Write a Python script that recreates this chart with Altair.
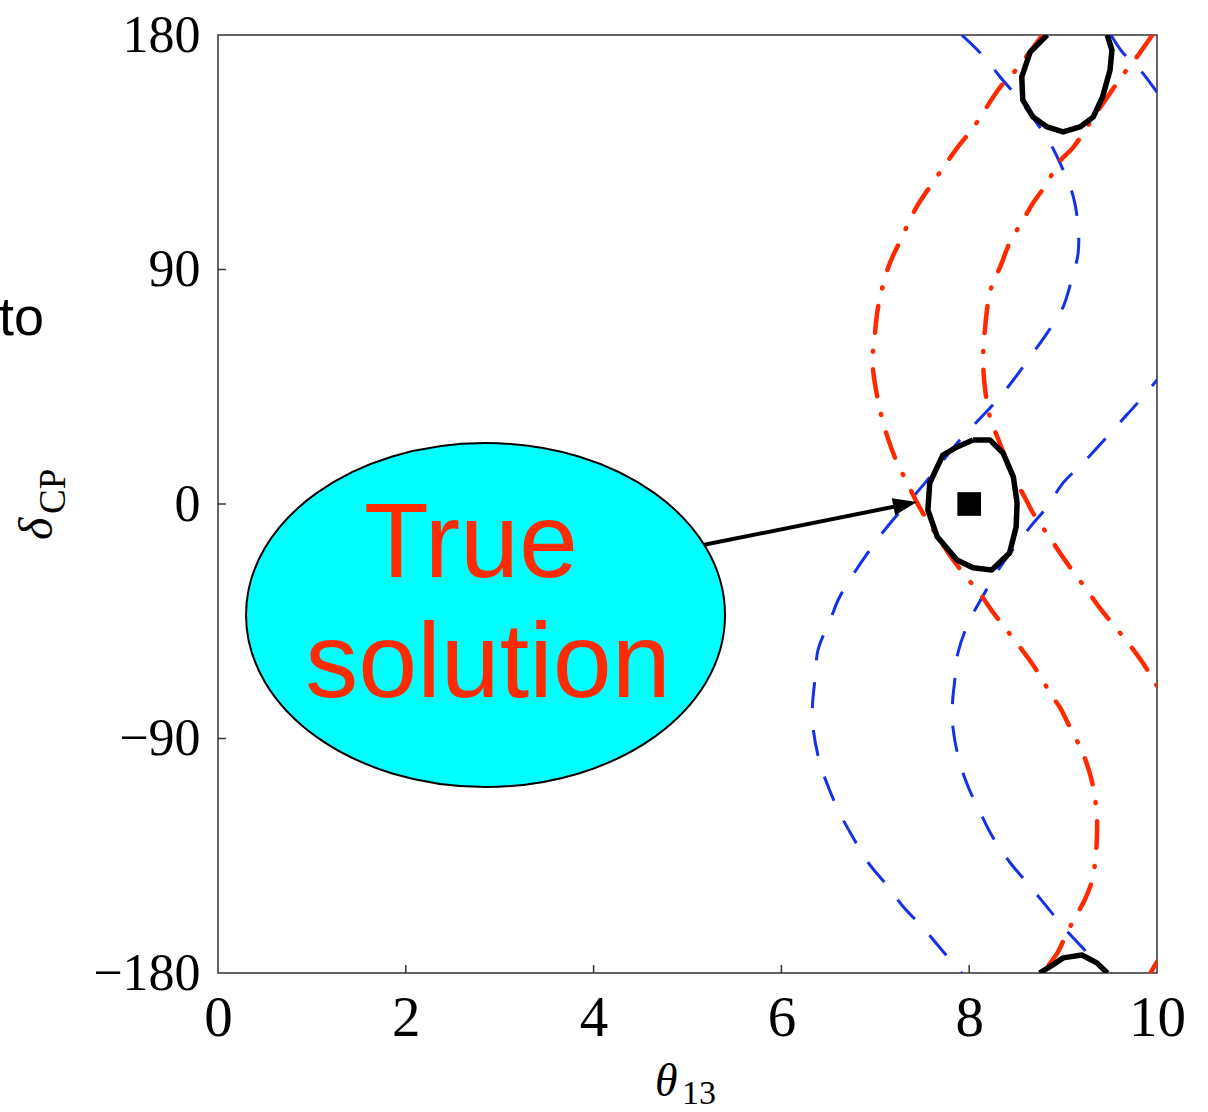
import altair as alt
import pandas as pd

# ---- iso-probability curves in the (theta13, delta_CP) plane ----
# red dash-dot curves
RED_A_THETA = [8.78, 8.47, 8.33, 8.04, 7.87, 7.61, 7.44, 7.26, 7.14, 7.03, 6.99, 6.97, 6.98, 7.05, 7.14,
               7.23, 7.34, 7.44, 7.55, 7.83, 8.14, 8.25, 8.40, 8.68, 8.89, 8.97, 9.05, 9.18, 9.25, 9.32,
               9.36, 9.36, 9.35, 9.31, 9.23, 9.13, 9.02, 8.94, 8.78]
RED_A_DELTA = [180, 165.4, 160.0, 144.3, 136.6, 123.2, 114.0, 100.6, 91.0, 75.6, 63.0, 56.0, 50.3, 36.1, 24.6,
               16.1, 8.1, 0.8, -6.1, -21.5, -35.7, -41.4, -48.4, -61.8, -74.1, -78.3, -84.0, -93.3, -99.4, -108.6,
               -120.1, -127.8, -133.9, -144.3, -152.0, -158.5, -166.2, -172.3, -180]

RED_B1_THETA = [9.95, 9.80, 9.66, 9.50, 9.29, 9.11, 8.95, 8.83, 8.68, 8.56, 8.43, 8.33, 8.25, 8.20, 8.17,
                8.15, 8.15, 8.17, 8.22, 8.30, 8.49, 8.59, 8.68, 8.86, 9.04, 9.27, 9.39, 9.71, 9.85, 9.98, 10.12]
RED_B1_DELTA = [180, 172.3, 165.8, 157.7, 146.6, 137.0, 130.9, 123.2, 115.5, 108.2, 100.2, 91.0, 84.8, 77.1, 67.9,
                59.1, 52.6, 43.8, 33.4, 25.7, 9.2, 2.7, -3.5, -13.0, -22.6, -33.8, -39.9, -54.1, -61.0, -68.7, -76.0]

RED_B2_THETA = [9.93, 10.0, 10.1]
RED_B2_DELTA = [-180, -175.8, -170.5]

# blue dashed curves
BLUE_1_THETA = [7.92, 8.14, 8.33, 8.52, 8.72, 8.86, 9.00, 9.11, 9.16, 9.16, 9.09, 9.00, 8.83, 8.68, 8.47,
                8.30, 8.08, 7.90, 7.53, 7.16, 6.94, 6.62, 6.52, 6.39, 6.36, 6.33, 6.34, 6.41, 6.50, 6.62,
                6.76, 6.92, 7.12, 7.30, 7.50, 7.69, 7.92]
BLUE_1_DELTA = [180, 172.3, 163.9, 155.8, 146.2, 138.6, 128.2, 117.8, 106.3, 96.3, 86.0, 75.6, 65.6, 58.0, 47.6,
                39.9, 31.5, 24.6, 8.1, -7.3, -17.7, -35.7, -44.5, -56.0, -66.4, -77.9, -86.7, -99.4, -108.6, -118.6,
                -127.8, -137.4, -146.2, -154.7, -162.3, -170.4, -180]

BLUE_2A_THETA = [9.51, 9.63, 9.82, 10.0, 10.12]
BLUE_2A_DELTA = [180, 173.5, 166.6, 158.1, 152.5]

BLUE_2B_THETA = [10.12, 10.0, 9.82, 9.61, 9.21, 9.00, 8.83, 8.65, 8.33, 8.14, 7.99, 7.88, 7.85, 7.82, 7.83,
                 7.90, 7.99, 8.12, 8.25, 8.43, 8.62, 8.83, 9.00, 9.21, 9.36, 9.48]
BLUE_2B_DELTA = [53.0, 47.6, 39.9, 31.5, 15.7, 8.1, -1.1, -8.8, -24.2, -35.7, -45.7, -57.2, -66.4, -77.9, -86.7,
                 -99.4, -108.6, -118.6, -127.8, -137.4, -145.5, -154.7, -162.3, -170.4, -176.1, -180]

# black allowed regions
BLACK_C_THETA = [8.04, 8.22, 8.36, 8.47, 8.51, 8.50, 8.43, 8.24, 8.04, 7.87, 7.66, 7.56, 7.58, 7.72, 7.87, 8.04]
BLACK_C_DELTA = [24.6, 24.6, 19.6, 10.4, 0.4, -8.8, -18.8, -25.3, -24.5, -21.5, -12.6, -2.3, 8.1, 18.8, 21.9, 24.6]

BLACK_T_THETA = [8.83, 8.65, 8.56, 8.57, 8.68, 8.83, 9.00, 9.18, 9.32, 9.42, 9.50, 9.52, 9.47]
BLACK_T_DELTA = [180, 173.5, 163.9, 155.1, 148.5, 144.7, 142.8, 144.7, 148.5, 156.2, 166.6, 174.2, 180]

BLACK_B_THETA = [8.75, 8.89, 9.00, 9.20, 9.36, 9.47]
BLACK_B_DELTA = [-180, -176.9, -174.2, -173.1, -176.1, -180]

# true parameter point
TRUE_THETA = [8.0]
TRUE_DELTA = [0.0]

# axis ticks
X_TICKS = [0, 2, 4, 6, 8, 10]
Y_TICKS = [-180, -90, 0, 90, 180]
X_INNER = [2, 4, 6, 8]
Y_INNER = [-90, 0, 90]

# annotation bubble, arrow and label
BUBBLE_THETA, BUBBLE_DELTA = [2.849], [-42.6]
ARROW_FROM = (5.005, -16.9)
ARROW_BASE = (7.316, -0.2)
ARROW_TIP = (7.444, 0.8)
LABEL_LINES = ["True", "solution"]
LABEL_THETA = [2.694, 2.875]
LABEL_DELTA = [-28.0, -74.1]

W, H = 939, 938


def curves(pieces):
    rows = []
    for name, th, de in pieces:
        for i, (t, d) in enumerate(zip(th, de)):
            rows.append({"piece": name, "idx": i, "theta": t, "delta": d})
    return pd.DataFrame(rows)


red_df = curves([("a", RED_A_THETA, RED_A_DELTA), ("b1", RED_B1_THETA, RED_B1_DELTA),
                 ("b2", RED_B2_THETA, RED_B2_DELTA)])
blue_df = curves([("1", BLUE_1_THETA, BLUE_1_DELTA), ("2a", BLUE_2A_THETA, BLUE_2A_DELTA),
                  ("2b", BLUE_2B_THETA, BLUE_2B_DELTA)])
black_df = curves([("c", BLACK_C_THETA, BLACK_C_DELTA), ("t", BLACK_T_THETA, BLACK_T_DELTA),
                   ("b", BLACK_B_THETA, BLACK_B_DELTA)])

x_scale = alt.Scale(domain=[0, 10], nice=False, zero=False)
y_scale = alt.Scale(domain=[-180, 180], nice=False, zero=False)

x_axis = alt.Axis(values=X_TICKS, title=None, grid=False, ticks=False, domain=False,
                  labelFont="Liberation Serif", labelFontSize=57, labelColor="black",
                  labelPadding=17, labelFlush=False, labelOverlap=False)
y_axis = alt.Axis(values=Y_TICKS, title=None, grid=False, ticks=False, domain=False,
                  labelFont="Liberation Serif", labelFontSize=52, labelColor="black",
                  labelPadding=18, labelFlush=False, labelOverlap=False)

X = alt.X("theta:Q", scale=x_scale, axis=x_axis)
Y = alt.Y("delta:Q", scale=y_scale, axis=y_axis)

blue = alt.Chart(blue_df).mark_line(
    clip=True, color="#1430e8", strokeWidth=3, strokeDash=[26, 22], interpolate="catmull-rom"
).encode(x=X, y=Y, detail="piece:N", order="idx:Q")

red = alt.Chart(red_df).mark_line(
    clip=True, color="#ff2a00", strokeWidth=4.5, strokeDash=[27, 18, 1, 18], strokeCap="round",
    interpolate="catmull-rom"
).encode(x=X, y=Y, detail="piece:N", order="idx:Q")

black = alt.Chart(black_df).mark_line(
    clip=True, color="black", strokeWidth=5.5, strokeJoin="round"
).encode(x=X, y=Y, detail="piece:N", order="idx:Q")

true_pt = alt.Chart(pd.DataFrame({"theta": TRUE_THETA, "delta": TRUE_DELTA})).mark_square(
    size=560, color="black", opacity=1
).encode(x=X, y=Y)

# inward tick marks
xt = alt.Chart(pd.DataFrame({"theta": X_INNER})).mark_rule(color="#333", strokeWidth=1.5).encode(
    x=X, y=alt.value(H), y2=alt.value(H - 8))
yt = alt.Chart(pd.DataFrame({"delta": Y_INNER})).mark_rule(color="#333", strokeWidth=1.5).encode(
    y=Y, x=alt.value(0), x2=alt.value(8))

# arrow from bubble to the true solution
arrow_line = alt.Chart(pd.DataFrame({
    "theta": [ARROW_FROM[0]], "delta": [ARROW_FROM[1]],
    "theta2": [ARROW_BASE[0]], "delta2": [ARROW_BASE[1]]
})).mark_rule(color="black", strokeWidth=4).encode(x=X, y=Y, x2="theta2:Q", y2="delta2:Q")

arrow_head = alt.Chart(pd.DataFrame({"theta": [ARROW_TIP[0]], "delta": [ARROW_TIP[1]]})).mark_point(
    shape="M0,0 L-1,-0.36 L-1,0.36 Z", filled=True, color="black", opacity=1,
    size=2304, angle=348.6
).encode(x=X, y=Y)

bubble = alt.Chart(pd.DataFrame({"theta": BUBBLE_THETA, "delta": BUBBLE_DELTA})).mark_point(
    shape="M-1,0 A1,0.718 0 1,1 1,0 A1,0.718 0 1,1 -1,0 Z",
    filled=True, fill="#00ffff", stroke="black", strokeWidth=2, opacity=1, size=229441
).encode(x=X, y=Y)

label = alt.Chart(pd.DataFrame({"theta": LABEL_THETA, "delta": LABEL_DELTA, "txt": LABEL_LINES})).mark_text(
    font="Liberation Sans", fontSize=106, color="#ff2a00", align="center", baseline="alphabetic"
).encode(x=X, y=Y, text="txt:N")

# axis titles and stray slide text
side = alt.Chart(pd.DataFrame({"t": ["to"]})).mark_text(
    font="Liberation Sans", fontSize=54, color="black", align="right", baseline="alphabetic"
).encode(text="t:N", x=alt.value(-174), y=alt.value(300))

xt_main = alt.Chart(pd.DataFrame({"t": ["θ"]})).mark_text(
    font="Liberation Serif", fontStyle="italic", fontSize=46, color="black", align="left",
    baseline="alphabetic"
).encode(text="t:N", x=alt.value(437), y=alt.value(1061))
xt_sub = alt.Chart(pd.DataFrame({"t": ["13"]})).mark_text(
    font="Liberation Serif", fontSize=34, color="black", align="left", baseline="alphabetic"
).encode(text="t:N", x=alt.value(464), y=alt.value(1069))

yt_main = alt.Chart(pd.DataFrame({"t": ["δ"]})).mark_text(
    font="Liberation Serif", fontStyle="italic", fontSize=48, color="black", align="left",
    baseline="alphabetic", angle=270
).encode(text="t:N", x=alt.value(-166), y=alt.value(505))
yt_sub = alt.Chart(pd.DataFrame({"t": ["CP"]})).mark_text(
    font="Liberation Serif", fontSize=37, color="black", align="left",
    baseline="alphabetic", angle=270
).encode(text="t:N", x=alt.value(-153), y=alt.value(479))

chart = alt.layer(
    blue, red, black, true_pt, xt, yt, arrow_line, bubble, label, arrow_head,
    side, xt_main, xt_sub, yt_main, yt_sub
).properties(
    width=W, height=H,
    autosize=alt.AutoSizeParams(type="none"),
    padding={"left": 218, "top": 35, "right": 51, "bottom": 139},
    background="white",
).configure_view(stroke="#333", strokeWidth=1.5)

chart.save("out.html", embed_options={"renderer": "svg", "actions": False})
